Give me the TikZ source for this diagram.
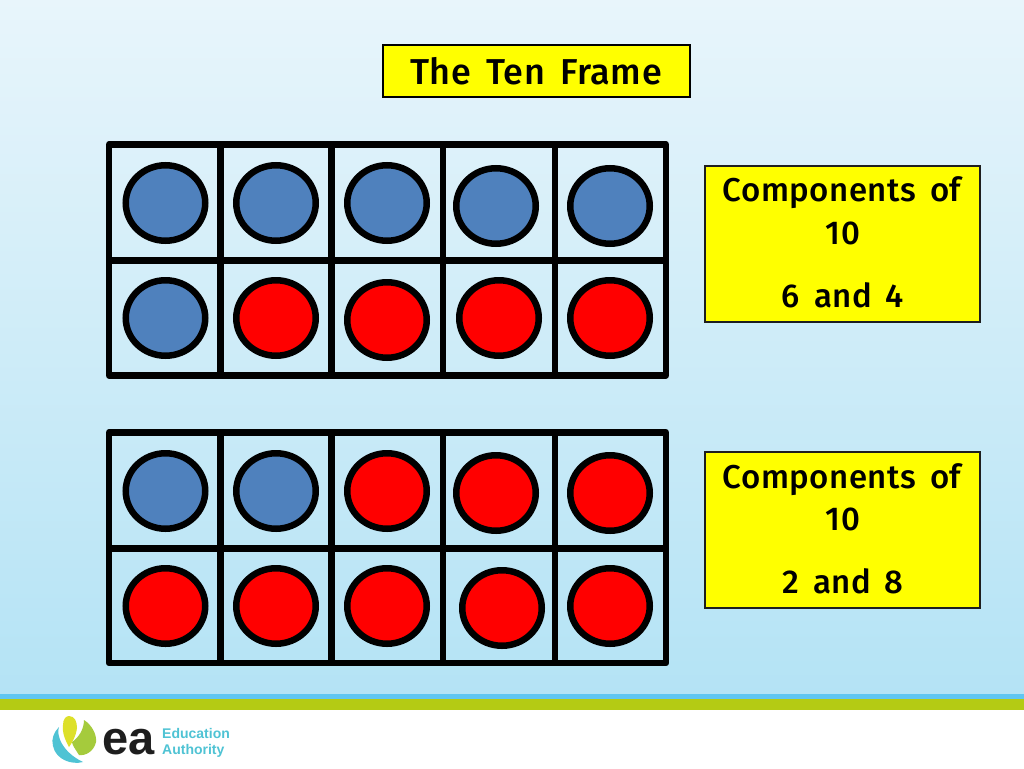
\documentclass[tikz,border=0pt]{standalone}
\usepackage{fontspec}
\usetikzlibrary{shapes.geometric}
\setmainfont{Fira Sans}
\newfontfamily\boxfont{Fira Sans Medium}[LetterSpace=1.5,WordSpace=1.6]
\newfontfamily\logofont{Liberation Sans}
\definecolor{bgtop}{HTML}{E8F5FB}
\definecolor{bgbot}{HTML}{B4E3F5}
\definecolor{dotblue}{HTML}{4F81BD}
\definecolor{dotred}{HTML}{FF0000}
\definecolor{stripeblue}{HTML}{5FC6F2}
\definecolor{stripegreen}{HTML}{B4CB14}
\definecolor{teal}{HTML}{4FC3D4}
\definecolor{leafyellow}{HTML}{DDE02A}
\definecolor{leafgreen}{HTML}{A5CB3C}
\definecolor{inkblack}{HTML}{1E1E1E}
\definecolor{boxyellow}{HTML}{FFFF00}
\tikzset{
  dot/.style={ellipse,draw=black,line width=6.5pt,minimum width=79.5pt,minimum height=75.5pt,inner sep=0pt,outer sep=0pt},
  bluedot/.style={dot,fill=dotblue},
  reddot/.style={dot,fill=dotred},
  gridline/.style={draw=black,line width=6.5pt,line join=round,line cap=round},
  labelbox/.style={draw=inkblack,line width=2.2pt,fill=boxyellow,inner sep=0pt,outer sep=0pt,minimum width=275pt,minimum height=156pt},
  boxtext/.style={font=\boxfont\fontsize{33}{36}\selectfont,text=black,inner sep=0pt},
  titlefont/.style={font=\boxfont\fontsize{36}{38}\selectfont,text=black,inner sep=0pt},
  logotext/.style={font=\logofont\fontsize{14}{15}\selectfont\bfseries,text=teal,inner sep=0pt,anchor=base west}
}
\begin{document}
\begin{tikzpicture}[x=1pt,y=-1pt]
\useasboundingbox (0,0) rectangle (1024,768);
\shade[top color=bgtop,bottom color=bgbot] (0,0) rectangle (1024,694);
\fill[stripeblue] (0,694) rectangle (1024,698.5);
\fill[stripegreen] (0,698.5) rectangle (1024,710);
\fill[white] (0,710) rectangle (1024,768);
% title
\node[draw=black,line width=2.2pt,fill=boxyellow,minimum width=307pt,minimum height=52pt,inner sep=0pt] (title) at (536.5,71) {};
\node[titlefont] (titletext) at (536,71) {The Ten Frame};
% frames
\foreach \t/\m/\b in {144.5/260.5/375.5,432.5/548.5/663}{
  \draw[gridline] (109,\t) rectangle (666,\b);
  \draw[gridline,line cap=butt] (109,\m) -- (666,\m);
  \foreach \x in {220.5,331.5,443,555}{\draw[gridline,line cap=butt] (\x,\t) -- (\x,\b);}
}
% frame 1 counters
\node[bluedot] (a1) at (165.5,203) {};
\node[bluedot] (a2) at (276,203) {};
\node[bluedot] (a3) at (387,203) {};
\node[bluedot] (a4) at (496,206) {};
\node[bluedot] (a5) at (610,206) {};
\node[bluedot] (a6) at (165.5,318) {};
\node[reddot] (a7) at (276,318) {};
\node[reddot] (a8) at (387,320) {};
\node[reddot] (a9) at (499,318) {};
\node[reddot] (a10) at (610,318) {};
% frame 2 counters
\node[bluedot] (b1) at (165.5,491) {};
\node[bluedot] (b2) at (276,491) {};
\node[reddot] (b3) at (387,491) {};
\node[reddot] (b4) at (496,493) {};
\node[reddot] (b5) at (610,493) {};
\node[reddot] (b6) at (165.5,606) {};
\node[reddot] (b7) at (276,606) {};
\node[reddot] (b8) at (387,606) {};
\node[reddot] (b9) at (502,608) {};
\node[reddot] (b10) at (610,606) {};
% label boxes
\node[labelbox] (box1) at (842.5,244) {};
\node[boxtext] (t1a) at (842,193) {Components of};
\node[boxtext] (t1b) at (843,233) {10};
\node[boxtext] (t1c) at (843,295) {6 and 4};
\node[labelbox] (box2) at (842.5,530) {};
\node[boxtext] (t2a) at (842,480) {Components of};
\node[boxtext] (t2b) at (843,519) {10};
\node[boxtext] (t2c) at (843,581) {2 and 8};
% logo
\fill[leafgreen] (84,720) .. controls (92,725) and (97,735) .. (96,742) .. controls (94,751) and (86,756) .. (79,755) .. controls (76,750) and (72,745) .. (72,742) .. controls (78,738) and (84,730) .. (84,720) -- cycle;
\fill[leafyellow] (69,716) .. controls (75,716) and (77,722) .. (77,728) .. controls (76,736) and (72,743) .. (69,747) .. controls (65,740) and (62,732) .. (63,725) .. controls (63,719) and (66,716) .. (69,716) -- cycle;
\fill[teal] (59,727) .. controls (56,735) and (62,752) .. (83,762) .. controls (72,765) and (56,760) .. (53,746) .. controls (51,739) and (54,732) .. (59,727) -- cycle;
\node[font=\logofont\bfseries\fontsize{47}{47}\selectfont,text=inkblack,inner sep=0pt,anchor=base west] (ea) at (102,754) {ea};
\node[logotext] (edu) at (162,738) {Education};
\node[logotext] (auth) at (162,754) {Authority};
\end{tikzpicture}
\end{document}
